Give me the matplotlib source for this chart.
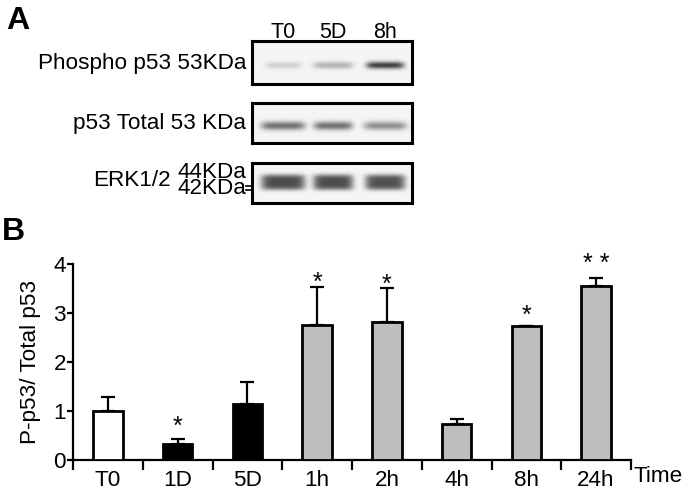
import numpy as np
import matplotlib
matplotlib.use("Agg")
import matplotlib.pyplot as plt
from matplotlib.transforms import ScaledTranslation

plt.rcParams['font.family'] = ['Liberation Sans', 'DejaVu Sans']

# panel B data
times = ['T0', '1D', '5D', '1h', '2h', '4h', '8h', '24h']
ratio = [1.00, 0.33, 1.14, 2.75, 2.82, 0.73, 2.73, 3.55]
sem = [0.29, 0.09, 0.46, 0.79, 0.69, 0.11, 0.01, 0.16]
bar_colors = ['white', 'black', 'black', '#bebebe', '#bebebe', '#bebebe', '#bebebe', '#bebebe']
sig = ['', '*', '', '*', '*', '', '*', '* *']
sig_y = [0, 0.82, 0, 3.76, 3.72, 0, 3.09, 4.16]

# panel A data (band darkness per lane)
lanes = ['T0', '5D', '8h']
blot_rows = ['Phospho p53 53KDa', 'p53 Total 53 KDa', 'ERK1/2']
phospho = [0.14, 0.26, 0.72]
total = [0.52, 0.52, 0.40]
erk = [0.66, 0.66, 0.64]

W, H = 683, 495
FS = 16.2
fig = plt.figure(figsize=(W / 100, H / 100), dpi=100)


def fx(x):
    return x / W


def fy(y):
    return 1 - y / H


def box_axes(x0, y0, x1, y1):
    return fig.add_axes([fx(x0), fy(y1), fx(x1) - fx(x0), fy(y0) - fy(y1)])


# ---------- panel A ----------
fig.text(fx(6), fy(21), 'A', fontsize=23, fontweight='bold', va='center', ha='left')

lane_x = [283, 333, 385]
lane_w = [[36, 40, 38], [44, 39, 43], [44, 40, 40]]
boxes = [(252, 41, 412, 84), (252, 103, 412, 143), (252, 163, 412, 203)]
band_y = [65, 125.5, 182]
band_s = [2.5, 3.0, 5.5]
rows = [phospho, total, erk]

for r, (x0, y0, x1, y1) in enumerate(boxes):
    ax = box_axes(x0, y0, x1, y1)
    xs = np.arange(x0, x1, 0.5)
    ys = np.arange(y0, y1, 0.5)
    X, Y = np.meshgrid(xs, ys)
    img = np.full(X.shape, 0.96)
    for i, d in enumerate(rows[r]):
        hw = lane_w[r][i] / 2
        px = np.exp(-((X - lane_x[i]) / hw) ** 6)
        py = np.exp(-0.5 * ((Y - band_y[r]) / band_s[r]) ** 4 / 2) if r == 2 else \
            np.exp(-0.5 * ((Y - band_y[r]) / band_s[r]) ** 2)
        img -= d * px * py
    ax.imshow(img, cmap='gray', vmin=0, vmax=1, extent=(x0, x1, y1, y0),
              aspect='auto', interpolation='bilinear')
    ax.set_xticks([])
    ax.set_yticks([])
    for s in ax.spines.values():
        s.set_linewidth(2.2)

for i, lab in enumerate(lanes):
    fig.text(fx(lane_x[i]), fy(32), lab, fontsize=15.5, ha='center', va='center')

fig.text(fx(246), fy(64), blot_rows[0], fontsize=FS, ha='right', va='center')
fig.text(fx(246), fy(123), blot_rows[1], fontsize=FS, ha='right', va='center')
fig.text(fx(171), fy(181), blot_rows[2], fontsize=FS, ha='right', va='center')
fig.text(fx(177), fy(172), '44KDa', fontsize=FS, ha='left', va='center')
fig.text(fx(177), fy(189), '42KDa', fontsize=FS, ha='left', va='center')
for yy in (185.5, 190.5):
    fig.add_artist(plt.Line2D([fx(246), fx(252)], [fy(yy), fy(yy)], color='black', lw=1.2))

# ---------- panel B ----------
fig.text(fx(2), fy(232), 'B', fontsize=23, fontweight='bold', va='center', ha='left')

ax = box_axes(73, 264, 631, 460)
centers = np.arange(len(times)) + 0.5
ax.bar(centers, ratio, width=0.42, color=bar_colors, edgecolor='black', linewidth=2, zorder=3)
ax.errorbar(centers, ratio, yerr=[np.zeros(len(sem)), sem], fmt='none', ecolor='black',
            elinewidth=1.6, capsize=5, capthick=1.6, zorder=2)
sfs = 18
for c, s, y in zip(centers, sig, sig_y):
    if s:
        ax.text(c, y, s, fontsize=sfs, ha='center', va='baseline', clip_on=False,
                transform=ax.transData + ScaledTranslation(0, -0.58 * sfs / 72, fig.dpi_scale_trans))

ax.set_xlim(0, 8)
ax.set_ylim(0, 4)
ax.spines['top'].set_visible(False)
ax.spines['right'].set_visible(False)
ax.spines['left'].set_linewidth(1.6)
ax.spines['bottom'].set_linewidth(1.6)
ax.set_yticks([0, 1, 2, 3, 4])
ax.tick_params(axis='y', direction='out', length=4, width=1.6, labelsize=FS, pad=1)
ax.set_xticks(np.arange(0, 9))
ax.set_xticklabels([])
ax.tick_params(axis='x', which='major', direction='out', length=7, width=1.6)
ax.set_xticks(centers, minor=True)
ax.set_xticklabels(times, minor=True)
ax.tick_params(axis='x', which='minor', length=0, labelsize=FS, pad=7)
ax.set_ylabel('P-p53/ Total p53', fontsize=FS, labelpad=9)
fig.text(fx(633), fy(477), 'Time', fontsize=FS, ha='left', va='center')

fig.savefig('out.png', dpi=100)
